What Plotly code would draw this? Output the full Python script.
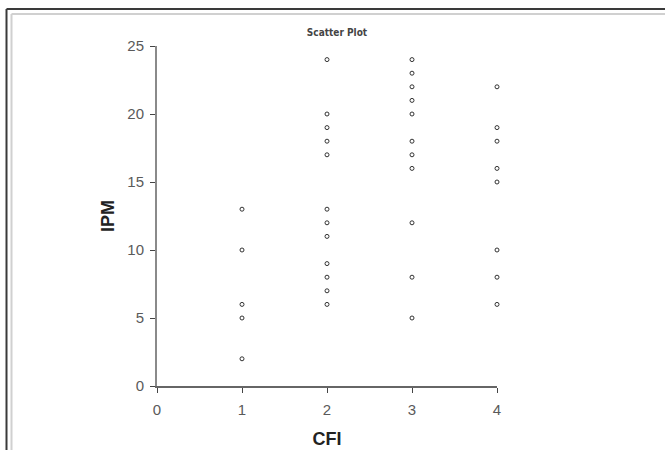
import plotly.graph_objects as go

# CFI groups and the IPM values observed in each
cfi_1 = [13, 10, 6, 5, 2]
cfi_2 = [24, 20, 19, 18, 17, 13, 12, 11, 9, 8, 7, 6]
cfi_3 = [24, 23, 22, 21, 20, 18, 17, 16, 12, 8, 5]
cfi_4 = [22, 19, 18, 16, 15, 10, 8, 6]

x_vals = [1] * len(cfi_1) + [2] * len(cfi_2) + [3] * len(cfi_3) + [4] * len(cfi_4)
y_vals = cfi_1 + cfi_2 + cfi_3 + cfi_4

x_ticks = [0, 1, 2, 3, 4]
y_ticks = [0, 5, 10, 15, 20, 25]

axis_color = "#8a8a8a"
tick_font = dict(family="Liberation Sans, Arial, sans-serif", size=15, color="#5a5a5a")
title_font = dict(family="Liberation Sans, Arial, sans-serif", size=18, color="#222222")

fig = go.Figure(
    go.Scatter(
        x=x_vals,
        y=y_vals,
        mode="markers",
        marker=dict(symbol="circle-open", size=4, color="#333333", line=dict(width=1)),
        cliponaxis=False,
        showlegend=False,
    )
)

fig.update_layout(
    width=665,
    height=450,
    margin=dict(l=157, r=168, t=46, b=64),
    paper_bgcolor="white",
    plot_bgcolor="white",
    title=dict(
        text="<b>Scatter Plot</b>",
        font=dict(family="DejaVu Sans Condensed, Liberation Sans Narrow, Arial, sans-serif", size=10, color="#444444"),
        x=337 / 665,
        xanchor="center",
        y=1 - 32 / 450,
        yanchor="middle",
    ),
    shapes=[
        # outer dark frame and inner light frame (run off the right and bottom edges)
        dict(type="line", xref="paper", yref="paper", x0=-150.5 / 340, x1=2, y0=1 + 37 / 340, y1=1 + 37 / 340,
             line=dict(color="#3a3a3a", width=2)),
        dict(type="line", xref="paper", yref="paper", x0=-150.5 / 340, x1=-150.5 / 340, y0=1 + 37 / 340, y1=-2,
             line=dict(color="#3a3a3a", width=2)),
        dict(type="line", xref="paper", yref="paper", x0=-145.5 / 340, x1=2, y0=1 + 32 / 340, y1=1 + 32 / 340,
             line=dict(color="#d0d0d0", width=2)),
        dict(type="line", xref="paper", yref="paper", x0=-145.5 / 340, x1=-145.5 / 340, y0=1 + 32 / 340, y1=-2,
             line=dict(color="#d0d0d0", width=2)),
    ],
)

fig.update_xaxes(
    range=[0, 4],
    tickvals=x_ticks,
    ticks="outside",
    ticklen=5,
    tickcolor="#444444",
    ticklabelstandoff=4,
    showline=True,
    linecolor="#666666",
    linewidth=1.5,
    showgrid=False,
    zeroline=False,
    automargin=False,
    tickfont=tick_font,
    title=dict(text="<b>CFI</b>", font=title_font, standoff=16),
)

fig.update_yaxes(
    range=[0, 25],
    tickvals=y_ticks,
    ticks="outside",
    ticklen=5,
    tickcolor="#444444",
    ticklabelstandoff=3,
    showline=True,
    linecolor=axis_color,
    linewidth=2,
    showgrid=False,
    zeroline=False,
    automargin=False,
    tickfont=tick_font,
    title=dict(text="<b>IPM</b>", font=title_font, standoff=8),
)

fig.write_html("out.html")
